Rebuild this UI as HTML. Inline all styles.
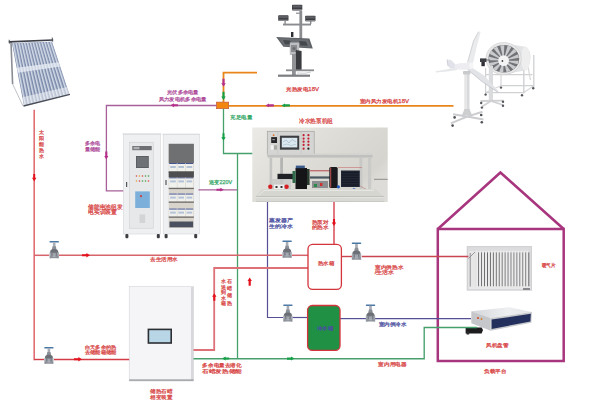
<!DOCTYPE html>
<html><head><meta charset="utf-8"><title>diagram</title>
<style>
html,body{margin:0;padding:0;background:#fff;}
body{width:600px;height:419px;overflow:hidden;position:relative;font-family:"Liberation Sans",sans-serif;}
svg{position:absolute;left:0;top:0;display:block;}
text{font-family:"Liberation Sans",sans-serif;}
</style></head><body>
<svg width="600" height="419" viewBox="0 0 600 419">
<rect x="0" y="0" width="600" height="419" fill="#ffffff"/>
<line x1="11" y1="42" x2="12.6" y2="84" stroke="#8a8d94" stroke-width="1.6"/>
<line x1="12.6" y1="84" x2="23" y2="106" stroke="#b8bbc2" stroke-width="0.9"/>
<polygon points="12.0,43.2 52.0,41.8 69.4,94.4 24.0,106.0" fill="#7b8aa8"/>
<line x1="13.43" y1="43.15" x2="25.62" y2="105.59" stroke="#a9b5cc" stroke-width="2.1"/>
<line x1="13.13" y1="43.15" x2="25.32" y2="105.59" stroke="#e6ebf3" stroke-width="0.7"/>
<line x1="16.29" y1="43.05" x2="28.86" y2="104.76" stroke="#a9b5cc" stroke-width="2.1"/>
<line x1="15.99" y1="43.05" x2="28.56" y2="104.76" stroke="#e6ebf3" stroke-width="0.7"/>
<line x1="19.14" y1="42.95" x2="32.11" y2="103.93" stroke="#a9b5cc" stroke-width="2.1"/>
<line x1="18.84" y1="42.95" x2="31.81" y2="103.93" stroke="#e6ebf3" stroke-width="0.7"/>
<line x1="22.00" y1="42.85" x2="35.35" y2="103.10" stroke="#a9b5cc" stroke-width="2.1"/>
<line x1="21.70" y1="42.85" x2="35.05" y2="103.10" stroke="#e6ebf3" stroke-width="0.7"/>
<line x1="24.86" y1="42.75" x2="38.59" y2="102.27" stroke="#a9b5cc" stroke-width="2.1"/>
<line x1="24.56" y1="42.75" x2="38.29" y2="102.27" stroke="#e6ebf3" stroke-width="0.7"/>
<line x1="27.71" y1="42.65" x2="41.84" y2="101.44" stroke="#a9b5cc" stroke-width="2.1"/>
<line x1="27.41" y1="42.65" x2="41.54" y2="101.44" stroke="#e6ebf3" stroke-width="0.7"/>
<line x1="30.57" y1="42.55" x2="45.08" y2="100.61" stroke="#a9b5cc" stroke-width="2.1"/>
<line x1="30.27" y1="42.55" x2="44.78" y2="100.61" stroke="#e6ebf3" stroke-width="0.7"/>
<line x1="33.43" y1="42.45" x2="48.32" y2="99.79" stroke="#a9b5cc" stroke-width="2.1"/>
<line x1="33.13" y1="42.45" x2="48.02" y2="99.79" stroke="#e6ebf3" stroke-width="0.7"/>
<line x1="36.29" y1="42.35" x2="51.56" y2="98.96" stroke="#a9b5cc" stroke-width="2.1"/>
<line x1="35.99" y1="42.35" x2="51.26" y2="98.96" stroke="#e6ebf3" stroke-width="0.7"/>
<line x1="39.14" y1="42.25" x2="54.81" y2="98.13" stroke="#a9b5cc" stroke-width="2.1"/>
<line x1="38.84" y1="42.25" x2="54.51" y2="98.13" stroke="#e6ebf3" stroke-width="0.7"/>
<line x1="42.00" y1="42.15" x2="58.05" y2="97.30" stroke="#a9b5cc" stroke-width="2.1"/>
<line x1="41.70" y1="42.15" x2="57.75" y2="97.30" stroke="#e6ebf3" stroke-width="0.7"/>
<line x1="44.86" y1="42.05" x2="61.29" y2="96.47" stroke="#a9b5cc" stroke-width="2.1"/>
<line x1="44.56" y1="42.05" x2="60.99" y2="96.47" stroke="#e6ebf3" stroke-width="0.7"/>
<line x1="47.71" y1="41.95" x2="64.54" y2="95.64" stroke="#a9b5cc" stroke-width="2.1"/>
<line x1="47.41" y1="41.95" x2="64.24" y2="95.64" stroke="#e6ebf3" stroke-width="0.7"/>
<line x1="50.57" y1="41.85" x2="67.78" y2="94.81" stroke="#a9b5cc" stroke-width="2.1"/>
<line x1="50.27" y1="41.85" x2="67.48" y2="94.81" stroke="#e6ebf3" stroke-width="0.7"/>
<polygon points="16.68,67.69 58.79,62.31 60.18,66.52 17.64,72.72" fill="#eef2f8" opacity="0.7"/>
<polygon points="22.32,97.21 66.96,87.04 69.40,94.40 24.00,106.00" fill="#f2f4f8" opacity="0.55"/>
<line x1="8.8" y1="41.8" x2="53.2" y2="40" stroke="#3c3f47" stroke-width="1.7"/>
<line x1="52.2" y1="37.6" x2="52.6" y2="41.6" stroke="#50525a" stroke-width="1"/>
<line x1="9.2" y1="39.8" x2="9.4" y2="43.6" stroke="#50525a" stroke-width="1"/>
<line x1="23.50" y1="106.00" x2="69.90" y2="94.40" stroke="#4a4e58" stroke-width="1.3"/>
<rect x="299.4" y="11" width="2.8" height="32" fill="#8a8c90"/>
<rect x="296" y="12.6" width="6" height="1.2" fill="#8a8c90"/>
<rect x="283" y="23.6" width="28" height="1.9" fill="#8a8c90"/>
<rect x="284.4" y="21" width="1.4" height="3" fill="#8a8c90"/><rect x="310" y="21" width="1.4" height="3" fill="#8a8c90"/>
<rect x="292" y="4.8" width="10.3" height="5.6" rx="0.8" fill="#3c3e43"/>
<rect x="292.6" y="5.3999999999999995" width="9.1" height="2.2" fill="#5c5e63"/>
<rect x="292.4" y="9.2" width="9.5" height="1.2" fill="#8e9094"/>
<rect x="278.2" y="15.3" width="10.3" height="5.6" rx="0.8" fill="#3c3e43"/>
<rect x="278.8" y="15.9" width="9.1" height="2.2" fill="#5c5e63"/>
<rect x="278.59999999999997" y="19.700000000000003" width="9.5" height="1.2" fill="#8e9094"/>
<rect x="305.2" y="15.7" width="10.3" height="5.6" rx="0.8" fill="#3c3e43"/>
<rect x="305.8" y="16.3" width="9.1" height="2.2" fill="#5c5e63"/>
<rect x="305.59999999999997" y="20.1" width="9.5" height="1.2" fill="#8e9094"/>
<polygon points="276.2,36.9 309.4,38.6 312.8,48.6 283.4,46.8" fill="#5e6166"/>
<polygon points="278.6,38 307.8,39.5 310.8,47.6 284.2,46" fill="#6a6d72"/>
<polygon points="283,40 290,40.4 291.5,44.5 285,44.2" fill="#45484d"/>
<polygon points="299,41 306,41.4 307.8,45.8 300.5,45.4" fill="#45484d"/>
<rect x="291" y="32" width="2.4" height="5" fill="#2c2e34"/>
<rect x="289.8" y="42.5" width="9.4" height="12.5" fill="#bcbec2"/>
<rect x="291" y="45" width="6" height="7" fill="#8a8c90"/>
<circle cx="294" cy="48.5" r="1.6" fill="#6a6c70"/>
<rect x="292" y="54" width="3.8" height="21" fill="#909296"/>
<polygon points="295.8,50 301.6,51 301.6,70.5 295.8,70.5" fill="#3a3c40"/>
<rect x="286" y="69.4" width="28" height="1.8" fill="#8a8c90"/>
<rect x="278" y="74.6" width="32" height="2.2" fill="#7c7e82"/>
<path d="M297,73 Q306,74 311,72" stroke="#9a9ca0" stroke-width="0.5" fill="none"/>
<line x1="523.8" y1="55" x2="523.8" y2="93.5" stroke="#cfd1d3" stroke-width="1.4"/>
<line x1="533.8" y1="55" x2="533.8" y2="87.5" stroke="#cfd1d3" stroke-width="1.3"/>
<line x1="501" y1="72" x2="501" y2="86.5" stroke="#cfd1d3" stroke-width="1.1"/>
<line x1="485.6" y1="68" x2="485.6" y2="94" stroke="#cfd1d3" stroke-width="1.2"/>
<line x1="485.6" y1="92.6" x2="523.8" y2="92.6" stroke="#cfd1d3" stroke-width="1.3"/>
<line x1="501" y1="85.6" x2="533.8" y2="85.6" stroke="#cfd1d3" stroke-width="1.2"/>
<line x1="523.8" y1="92.6" x2="533.8" y2="85.6" stroke="#cfd1d3" stroke-width="1.1"/>
<line x1="485.6" y1="92.6" x2="501" y2="85.6" stroke="#cfd1d3" stroke-width="1.0"/>
<line x1="486" y1="74.6" x2="532.5" y2="74.6" stroke="#cfd1d3" stroke-width="1.1"/>
<line x1="526" y1="55" x2="530.4" y2="80" stroke="#d8d9db" stroke-width="1.3"/>
<path d="M501.5,43 L525,46.8 Q531,50 530.5,58 Q530,67 525,70.4 L504.7,74.2 Z" fill="#e2e3e4"/>
<ellipse cx="525.5" cy="58.6" rx="4.5" ry="12" fill="#eeeeef"/>
<ellipse cx="503.6" cy="58.6" rx="17.7" ry="16.1" fill="#e8e8e9" stroke="#c4c5c7" stroke-width="0.5"/>
<ellipse cx="503.8" cy="58.8" rx="15.4" ry="13.8" fill="#707276"/>
<polygon points="503.6,60.6 518.85,60.69 517.73,64.22" fill="#c8cacc"/>
<polygon points="503.6,60.6 516.11,66.73 513.26,69.39" fill="#c8cacc"/>
<polygon points="503.6,60.6 510.50,70.96 506.58,72.14" fill="#c8cacc"/>
<polygon points="503.6,60.6 503.31,72.40 499.21,71.84" fill="#c8cacc"/>
<polygon points="503.6,60.6 496.19,70.72 492.86,68.54" fill="#c8cacc"/>
<polygon points="503.6,60.6 490.76,66.31 488.96,63.02" fill="#c8cacc"/>
<polygon points="503.6,60.6 488.28,60.19 488.42,56.53" fill="#c8cacc"/>
<polygon points="503.6,60.6 489.31,53.74 491.35,50.56" fill="#c8cacc"/>
<polygon points="503.6,60.6 493.61,48.45 497.09,46.47" fill="#c8cacc"/>
<polygon points="503.6,60.6 500.20,45.54 504.33,45.22" fill="#c8cacc"/>
<polygon points="503.6,60.6 507.57,45.66 511.39,47.07" fill="#c8cacc"/>
<polygon points="503.6,60.6 514.03,48.79 516.67,51.61" fill="#c8cacc"/>
<polygon points="503.6,60.6 518.10,54.22 518.96,57.80" fill="#c8cacc"/>
<circle cx="503.6" cy="60.6" r="5.4" fill="#f4f4f5"/>
<circle cx="502.4" cy="61" r="0.9" fill="#444"/>
<rect x="480" y="58.4" width="6.4" height="3.6" fill="#3e4046"/>
<rect x="481.4" y="62" width="3.4" height="4.2" fill="#2e3036"/>
<line x1="486" y1="60" x2="490" y2="60" stroke="#555" stroke-width="0.8"/>
<rect x="488.8" y="66" width="4.2" height="34.5" fill="#dadbdd"/>
<line x1="480.5" y1="101" x2="503.5" y2="100.6" stroke="#cfd0d2" stroke-width="1.8"/>
<line x1="491" y1="101" x2="481.8" y2="106.8" stroke="#cfd0d2" stroke-width="1.6"/>
<line x1="491" y1="101" x2="503" y2="105" stroke="#cfd0d2" stroke-width="1.6"/>
<circle cx="481.2" cy="103" r="1.2" fill="#55575b"/>
<circle cx="481.9" cy="107.6" r="1.2" fill="#55575b"/>
<circle cx="503" cy="101.8" r="1.2" fill="#55575b"/>
<circle cx="503" cy="105.8" r="1.2" fill="#55575b"/>
<circle cx="485.6" cy="94.6" r="1.2" fill="#55575b"/>
<circle cx="522" cy="95.2" r="1.2" fill="#55575b"/>
<circle cx="533.2" cy="88.2" r="1.2" fill="#55575b"/>
<circle cx="501" cy="87.6" r="1.2" fill="#55575b"/>
<rect x="464.5" y="72" width="5" height="41" fill="#d9dadc"/>
<rect x="465.3" y="72" width="1.5" height="41" fill="#ebebec"/>
<rect x="463" y="71" width="7.4" height="3.6" rx="1" fill="#c9cacc"/>
<polygon points="464.5,109 469.5,109 472,115 462,115" fill="#cdcecf"/>
<line x1="467" y1="116.6" x2="453" y2="114.2" stroke="#cbcccf" stroke-width="2"/>
<line x1="467" y1="116.6" x2="482.5" y2="111.8" stroke="#cbcccf" stroke-width="2"/>
<line x1="467" y1="116.6" x2="483.5" y2="119.5" stroke="#cbcccf" stroke-width="2"/>
<line x1="467" y1="116.6" x2="450.8" y2="123.4" stroke="#cbcccf" stroke-width="2"/>
<circle cx="454.6" cy="117.4" r="1.3" fill="#4e5054"/>
<circle cx="481.2" cy="115" r="1.3" fill="#4e5054"/>
<circle cx="481.8" cy="122.2" r="1.3" fill="#4e5054"/>
<circle cx="452.6" cy="125.6" r="1.3" fill="#4e5054"/>
<polygon points="467.5,62.5 473.5,41 478.6,31.6 480.6,32.2 477.2,45 473,63.5" fill="#eaebed"/>
<polyline points="467.5,62.5 473.5,41 478.6,31.6" fill="none" stroke="#b8babe" stroke-width="0.6"/>
<polygon points="457,67.6 446,69.4 435.4,71.2 436,72.4 447,71.4 457,70" fill="#e6e7e9"/>
<polygon points="469.5,66 484,75.5 498.9,91.4 497.6,92.2 482,81.5 467.5,69.5" fill="#e2e3e6"/>
<polyline points="467.5,69.5 482,81.5 497.6,92.2" fill="none" stroke="#b4b6ba" stroke-width="0.6"/>
<path d="M452.9,64.8 Q462,62.2 470,62.8 Q473.6,65.8 471.8,69 Q462,70.4 452.9,68.8 Z" fill="#ececf1"/>
<polygon points="447,59.6 451,60 455,64 454.7,68.4 450,68.6 448,66" fill="#e2e2ea"/>
<line x1="447" y1="59.6" x2="448" y2="66" stroke="#b8b8c4" stroke-width="0.6"/>
<ellipse cx="471.4" cy="65.8" rx="2" ry="3" fill="#f6f6f8"/>
<rect x="122.6" y="133.2" width="38.6" height="1.6" fill="#dfe1e3"/>
<rect x="123.4" y="134.4" width="37.2" height="99.6" fill="#eef0f1" stroke="#d4d6d8" stroke-width="0.6"/>
<rect x="129.6" y="142.2" width="23.6" height="86" fill="#e6e8e9" stroke="#c8cacc" stroke-width="0.5"/>
<rect x="132.3" y="146" width="19.4" height="4.2" fill="#6c6e72"/>
<rect x="133.5" y="146.8" width="6" height="2.5" fill="#aeb0b4"/>
<rect x="136" y="156" width="12.8" height="12" fill="#5c5e62"/>
<rect x="137" y="157" width="10.8" height="10" fill="#6e7276"/>
<circle cx="136.5" cy="176" r="0.8" fill="#e04848"/>
<circle cx="139.5" cy="176" r="0.8" fill="#e8a030"/>
<circle cx="142.5" cy="176" r="0.8" fill="#e04848"/>
<circle cx="145.5" cy="176" r="0.8" fill="#48a048"/>
<circle cx="148.5" cy="176" r="0.8" fill="#48a048"/>
<circle cx="136.5" cy="181" r="0.8" fill="#e8a030"/>
<circle cx="139.5" cy="181" r="0.8" fill="#e04848"/>
<circle cx="142.5" cy="181" r="0.8" fill="#48a048"/>
<circle cx="145.5" cy="181" r="0.8" fill="#48a048"/>
<circle cx="148.5" cy="181" r="0.8" fill="#e04848"/>
<rect x="135.2" y="191.4" width="14.6" height="16.6" fill="#7cb0da"/>
<circle cx="141" cy="196.2" r="1.1" fill="#d04040"/>
<rect x="139.5" y="214.4" width="5.7" height="8.6" fill="#d2d4d6"/>
<rect x="126" y="182" width="1.2" height="5" fill="#55575b"/>
<rect x="162.6" y="133.6" width="37.2" height="1.6" fill="#dfe1e3"/>
<rect x="163.2" y="134.6" width="36.2" height="99.4" fill="#eef0f1" stroke="#d4d6d8" stroke-width="0.6"/>
<rect x="168.7" y="143.8" width="25.2" height="84.2" fill="#d8d4cc"/>
<rect x="168.7" y="143.8" width="25.2" height="19.4" fill="#6e7072"/>
<rect x="169.2" y="163" width="7.6" height="8.5" fill="#f0f0ec"/>
<rect x="169.2" y="163" width="7.6" height="0.9" fill="#34458a"/>
<rect x="170.2" y="166" width="5.6" height="2" fill="#b4c2d8"/>
<rect x="177.4" y="163" width="7.6" height="8.5" fill="#f0f0ec"/>
<rect x="177.4" y="163" width="7.6" height="0.9" fill="#34458a"/>
<rect x="178.4" y="166" width="5.6" height="2" fill="#b4c2d8"/>
<rect x="185.6" y="163" width="7.6" height="8.5" fill="#f0f0ec"/>
<rect x="185.6" y="163" width="7.6" height="0.9" fill="#34458a"/>
<rect x="186.6" y="166" width="5.6" height="2" fill="#b4c2d8"/>
<rect x="168.7" y="171.5" width="25.2" height="1.3" fill="#6e6c6a"/>
<rect x="169.2" y="177.4" width="7.6" height="10.4" fill="#f0f0ec"/>
<rect x="169.2" y="177.4" width="7.6" height="0.9" fill="#34458a"/>
<rect x="170.2" y="180.4" width="5.6" height="2" fill="#b4c2d8"/>
<rect x="177.4" y="177.4" width="7.6" height="10.4" fill="#f0f0ec"/>
<rect x="177.4" y="177.4" width="7.6" height="0.9" fill="#34458a"/>
<rect x="178.4" y="180.4" width="5.6" height="2" fill="#b4c2d8"/>
<rect x="185.6" y="177.4" width="7.6" height="10.4" fill="#f0f0ec"/>
<rect x="185.6" y="177.4" width="7.6" height="0.9" fill="#34458a"/>
<rect x="186.6" y="180.4" width="5.6" height="2" fill="#b4c2d8"/>
<rect x="168.7" y="187.8" width="25.2" height="1.3" fill="#6e6c6a"/>
<rect x="169.2" y="193.6" width="7.6" height="7.9" fill="#f0f0ec"/>
<rect x="169.2" y="193.6" width="7.6" height="0.9" fill="#34458a"/>
<rect x="170.2" y="196.6" width="5.6" height="2" fill="#b4c2d8"/>
<rect x="177.4" y="193.6" width="7.6" height="7.9" fill="#f0f0ec"/>
<rect x="177.4" y="193.6" width="7.6" height="0.9" fill="#34458a"/>
<rect x="178.4" y="196.6" width="5.6" height="2" fill="#b4c2d8"/>
<rect x="185.6" y="193.6" width="7.6" height="7.9" fill="#f0f0ec"/>
<rect x="185.6" y="193.6" width="7.6" height="0.9" fill="#34458a"/>
<rect x="186.6" y="196.6" width="5.6" height="2" fill="#b4c2d8"/>
<rect x="168.7" y="201.5" width="25.2" height="1.3" fill="#6e6c6a"/>
<rect x="169.2" y="208.6" width="7.6" height="7.9" fill="#f0f0ec"/>
<rect x="169.2" y="208.6" width="7.6" height="0.9" fill="#34458a"/>
<rect x="170.2" y="211.6" width="5.6" height="2" fill="#b4c2d8"/>
<rect x="177.4" y="208.6" width="7.6" height="7.9" fill="#f0f0ec"/>
<rect x="177.4" y="208.6" width="7.6" height="0.9" fill="#34458a"/>
<rect x="178.4" y="211.6" width="5.6" height="2" fill="#b4c2d8"/>
<rect x="185.6" y="208.6" width="7.6" height="7.9" fill="#f0f0ec"/>
<rect x="185.6" y="208.6" width="7.6" height="0.9" fill="#34458a"/>
<rect x="186.6" y="211.6" width="5.6" height="2" fill="#b4c2d8"/>
<rect x="168.7" y="216.5" width="25.2" height="1.3" fill="#6e6c6a"/>
<rect x="168.7" y="171.5" width="25.2" height="5.9" fill="#4e4e50"/>
<rect x="169.5" y="221.5" width="23.6" height="5.8" fill="#4a5060"/>
<rect x="165.4" y="180" width="1.2" height="5" fill="#55575b"/>
<rect x="125.4" y="234" width="3" height="4.2" rx="1" fill="#3c3e42"/>
<rect x="156.8" y="234" width="3" height="4.2" rx="1" fill="#3c3e42"/>
<rect x="164.6" y="234" width="3" height="4.2" rx="1" fill="#3c3e42"/>
<rect x="194.2" y="234" width="3" height="4.2" rx="1" fill="#3c3e42"/>
<defs><linearGradient id="hpbg" x1="0" y1="0" x2="1" y2="0.6"><stop offset="0" stop-color="#eceae6"/><stop offset="0.55" stop-color="#dddbd5"/><stop offset="0.9" stop-color="#d6d4ce"/><stop offset="1" stop-color="#dedcd8"/></linearGradient></defs>
<rect x="252.3" y="127.5" width="135.4" height="74.5" fill="url(#hpbg)"/>
<rect x="267.3" y="131.3" width="46.9" height="23.7" fill="#d5d5d3" stroke="#a4a4a2" stroke-width="0.7"/>
<line x1="277.8" y1="132" x2="277.8" y2="154" stroke="#c0c0be" stroke-width="0.5"/>
<line x1="301.2" y1="132" x2="301.2" y2="154" stroke="#c0c0be" stroke-width="0.5"/>
<rect x="271.2" y="137.1" width="5.8" height="5.9" fill="#26262a"/>
<rect x="272.4" y="139" width="2.4" height="1.2" fill="#9a9aa0"/>
<circle cx="273.6" cy="135.2" r="0.9" fill="#e07030"/>
<rect x="270.7" y="145.3" width="3.2" height="4.4" fill="#f2f2f2"/>
<rect x="273.9" y="145.3" width="3.1" height="4.4" fill="#a8a8a4"/>
<rect x="279.9" y="135.7" width="19.3" height="14" fill="#3c3e42"/>
<rect x="281.8" y="137.8" width="15.5" height="9.6" fill="#dce8ef"/>
<path d="M283,142 L286,140 L289,143 L292,139.5 L296,142" stroke="#8aa0b4" stroke-width="0.5" fill="none"/>
<path d="M283,145 L287,144 L291,145.5 L296,144.2" stroke="#9ab0c0" stroke-width="0.5" fill="none"/>
<circle cx="303.6" cy="135.2" r="1.1" fill="#c41e32"/>
<circle cx="308.4" cy="135.2" r="1.1" fill="#c41e32"/>
<circle cx="303.6" cy="138.6" r="1.1" fill="#c41e32"/>
<circle cx="308.4" cy="138.6" r="1.1" fill="#c41e32"/>
<circle cx="303.6" cy="141.7" r="1.1" fill="#c41e32"/>
<circle cx="308.4" cy="141.7" r="1.1" fill="#c41e32"/>
<circle cx="303.6" cy="144.9" r="1.1" fill="#c41e32"/>
<circle cx="308.4" cy="144.9" r="1.1" fill="#c41e32"/>
<circle cx="303.6" cy="148.7" r="1.1" fill="#c41e32"/>
<circle cx="308.4" cy="148.7" r="1.1" fill="#222"/>
<rect x="267.5" y="153.8" width="105" height="3.8" fill="#c0c0be"/>
<rect x="267.5" y="153.8" width="105" height="0.9" fill="#dcdcda"/>
<rect x="269.6" y="157.6" width="2.6" height="32" fill="#c4c4c2"/>
<rect x="280.2" y="157.6" width="2.8" height="32" fill="#b4b4b2"/>
<rect x="359.4" y="157.6" width="3.0" height="32" fill="#c8c8c6"/>
<rect x="368" y="157.6" width="3.2" height="32" fill="#cacac8"/>
<rect x="277.5" y="173.8" width="17.5" height="5.4" fill="#1e2024"/>
<rect x="295.5" y="168" width="11.5" height="26.5" fill="#151517"/>
<rect x="295.8" y="165.6" width="9" height="2.6" fill="#3a5a8a"/>
<rect x="307" y="169" width="2.6" height="16" fill="#2a3a2e"/>
<rect x="292.5" y="171" width="3" height="12" fill="#2f6a4a"/>
<rect x="309.6" y="170" width="20" height="1.4" fill="#c07070"/>
<rect x="310" y="176.4" width="20" height="2.2" fill="#4a5660"/>
<rect x="312" y="181" width="16" height="7" fill="#6a6e72" opacity="0.7"/>
<rect x="314" y="184" width="3" height="3" fill="#2a8a4a"/><rect x="320" y="183" width="2.4" height="3" fill="#d03030"/>
<rect x="329.3" y="167" width="8.4" height="21" rx="1.5" fill="#1a1a1e"/>
<rect x="330.2" y="167.5" width="1" height="20" fill="#c05050"/>
<rect x="341" y="170.5" width="18.8" height="16.5" fill="#202634"/>
<line x1="342" y1="172.5" x2="358.8" y2="172.5" stroke="#0e121a" stroke-width="0.6"/>
<line x1="342" y1="175.0" x2="358.8" y2="175.0" stroke="#0e121a" stroke-width="0.6"/>
<line x1="342" y1="177.5" x2="358.8" y2="177.5" stroke="#0e121a" stroke-width="0.6"/>
<line x1="342" y1="180.0" x2="358.8" y2="180.0" stroke="#0e121a" stroke-width="0.6"/>
<line x1="342" y1="182.5" x2="358.8" y2="182.5" stroke="#0e121a" stroke-width="0.6"/>
<line x1="342" y1="185.0" x2="358.8" y2="185.0" stroke="#0e121a" stroke-width="0.6"/>
<rect x="271" y="179" width="20" height="16" fill="#c8c8c8" opacity="0.8"/>
<rect x="274" y="184.6" width="10" height="5" fill="#eeeeee"/>
<rect x="275.5" y="186" width="2" height="2" fill="#333"/><rect x="280.5" y="186" width="2" height="2" fill="#333"/>
<circle cx="270.3" cy="186.8" r="2.2" fill="#d81e22"/><circle cx="286.6" cy="186.8" r="2.2" fill="#d81e22"/>
<circle cx="304" cy="191" r="1.5" fill="#d82020"/>
<circle cx="338.4" cy="186.8" r="1.6" fill="#2058c0"/><circle cx="354" cy="190" r="1.8" fill="#2058c0"/>
<line x1="336" y1="190.5" x2="375" y2="190.5" stroke="#c87070" stroke-width="0.6"/>
<line x1="360" y1="186" x2="375" y2="194" stroke="#b08070" stroke-width="0.6"/>
<line x1="338" y1="167.5" x2="362" y2="167.5" stroke="#c87070" stroke-width="0.6"/>
<polygon points="262,189 375,189 383.6,196.6 256,196.6" fill="#d6d6d1"/>
<polyline points="258.5,195.6 264,190.4 374,190.4" fill="none" stroke="#eeeeec" stroke-width="0.7"/>
<line x1="256" y1="196.8" x2="384" y2="196.8" stroke="#a8a8a4" stroke-width="0.7"/>
<line x1="256" y1="197.5" x2="384" y2="197.5" stroke="#f0f0ee" stroke-width="0.7"/>
<rect x="256" y="197.8" width="128.2" height="3.9" fill="#d8d8d4"/>
<rect x="256" y="201.3" width="128.2" height="0.5" fill="#b8b8b4"/>
<line x1="374" y1="179.3" x2="387.7" y2="179.3" stroke="#6e6a66" stroke-width="0.7"/>
<rect x="129.2" y="286.6" width="64.3" height="94.4" fill="#f5f5f8" stroke="#d2d3d7" stroke-width="0.6"/>
<rect x="191" y="287" width="2.5" height="94" fill="#d8d8dc"/>
<rect x="129.2" y="379.4" width="64.3" height="1.4" fill="#9a9ca0"/>
<rect x="147.6" y="328.6" width="24.4" height="15.2" fill="#2c2e32"/>
<rect x="149.2" y="330.2" width="21.2" height="12" fill="#b8d6e6"/>
<rect x="466.7" y="246" width="65.3" height="44.7" fill="#d2d2d4"/>
<rect x="468" y="247.2" width="62.8" height="42.4" fill="#dcdcde"/>
<rect x="476.20" y="250.4" width="1.95" height="38" rx="0.8" fill="#ececec"/>
<rect x="478.15" y="252.4" width="1.0" height="34" fill="#6a6a6e"/>
<rect x="479.15" y="250.4" width="1.95" height="38" rx="0.8" fill="#ececec"/>
<rect x="481.10" y="252.4" width="1.0" height="34" fill="#6a6a6e"/>
<rect x="482.10" y="250.4" width="1.95" height="38" rx="0.8" fill="#ececec"/>
<rect x="484.05" y="252.4" width="1.0" height="34" fill="#6a6a6e"/>
<rect x="485.05" y="250.4" width="1.95" height="38" rx="0.8" fill="#ececec"/>
<rect x="487.00" y="252.4" width="1.0" height="34" fill="#6a6a6e"/>
<rect x="488.00" y="250.4" width="1.95" height="38" rx="0.8" fill="#ececec"/>
<rect x="489.95" y="252.4" width="1.0" height="34" fill="#6a6a6e"/>
<rect x="490.95" y="250.4" width="1.95" height="38" rx="0.8" fill="#ececec"/>
<rect x="492.90" y="252.4" width="1.0" height="34" fill="#6a6a6e"/>
<rect x="493.90" y="250.4" width="1.95" height="38" rx="0.8" fill="#ececec"/>
<rect x="495.85" y="252.4" width="1.0" height="34" fill="#6a6a6e"/>
<rect x="496.85" y="250.4" width="1.95" height="38" rx="0.8" fill="#ececec"/>
<rect x="498.80" y="252.4" width="1.0" height="34" fill="#6a6a6e"/>
<rect x="499.80" y="250.4" width="1.95" height="38" rx="0.8" fill="#ececec"/>
<rect x="501.75" y="252.4" width="1.0" height="34" fill="#6a6a6e"/>
<rect x="502.75" y="250.4" width="1.95" height="38" rx="0.8" fill="#ececec"/>
<rect x="504.70" y="252.4" width="1.0" height="34" fill="#6a6a6e"/>
<rect x="505.70" y="250.4" width="1.95" height="38" rx="0.8" fill="#ececec"/>
<rect x="507.65" y="252.4" width="1.0" height="34" fill="#6a6a6e"/>
<rect x="508.65" y="250.4" width="1.95" height="38" rx="0.8" fill="#ececec"/>
<rect x="510.60" y="252.4" width="1.0" height="34" fill="#6a6a6e"/>
<rect x="511.60" y="250.4" width="1.95" height="38" rx="0.8" fill="#ececec"/>
<rect x="513.55" y="252.4" width="1.0" height="34" fill="#6a6a6e"/>
<rect x="514.55" y="250.4" width="1.95" height="38" rx="0.8" fill="#ececec"/>
<rect x="516.50" y="252.4" width="1.0" height="34" fill="#6a6a6e"/>
<rect x="517.50" y="250.4" width="1.95" height="38" rx="0.8" fill="#ececec"/>
<rect x="519.45" y="252.4" width="1.0" height="34" fill="#6a6a6e"/>
<rect x="520.45" y="250.4" width="1.95" height="38" rx="0.8" fill="#ececec"/>
<rect x="522.40" y="252.4" width="1.0" height="34" fill="#6a6a6e"/>
<rect x="523.40" y="250.4" width="1.95" height="38" rx="0.8" fill="#ececec"/>
<rect x="525.35" y="252.4" width="1.0" height="34" fill="#6a6a6e"/>
<rect x="526.35" y="250.4" width="1.95" height="38" rx="0.8" fill="#ececec"/>
<rect x="528.30" y="252.4" width="1.0" height="34" fill="#6a6a6e"/>
<rect x="468.4" y="251" width="7.2" height="37" fill="#e6e6e6"/>
<rect x="469.6" y="253" width="1.4" height="34" fill="#a8a8ac"/>
<line x1="468.5" y1="258.5" x2="475" y2="252" stroke="#909094" stroke-width="0.9"/>
<rect x="469" y="286.6" width="61.5" height="2.4" fill="#e8e8e8"/>
<rect x="523" y="288" width="7" height="2" fill="#8a8a8e"/>
<defs><linearGradient id="fct" x1="0" y1="0" x2="1" y2="0"><stop offset="0" stop-color="#d4d5d9"/><stop offset="0.6" stop-color="#eeeff1"/><stop offset="1" stop-color="#e2e3e6"/></linearGradient></defs>
<polygon points="471.3,311.3 509.3,307.3 532,312 490.7,318" fill="url(#fct)"/>
<polygon points="490.7,318 532,312 531.3,322.7 490.7,330.7" fill="#c8c9cd"/>
<polygon points="491.6,319.6 530.8,313.8 530.4,321.6 491.6,329" fill="#23305e"/>
<polygon points="471.3,311.3 490.7,318 490.7,330.7 471.3,323.3" fill="#c6c7cb"/>
<circle cx="478" cy="318" r="1.1" fill="#d05030"/><circle cx="481.5" cy="319" r="1" fill="#d08030"/>
<polygon points="465.6,327.5 481.6,327.5 483,330 481.6,333.6 465.6,333.6" fill="#1c1c1e"/>
<rect x="466.6" y="331.5" width="2.6" height="3" fill="#2a2a2c"/>
<polyline points="437.8,229 500.4,172.5 563.7,229" fill="none" stroke="#a8367e" stroke-width="2.6" stroke-linejoin="miter"/>
<rect x="437.8" y="229" width="125.9" height="132" fill="none" stroke="#a8367e" stroke-width="2.5"/>
<polyline points="257,72.6 223.5,72.6 223.5,102" fill="none" stroke="#e8861c" stroke-width="1.8" stroke-linejoin="miter"/>
<line x1="228.7" y1="105.8" x2="453.5" y2="105.8" stroke="#e8861c" stroke-width="1.8"/>
<rect x="216.4" y="102.1" width="12.3" height="6.6" fill="#f2860e" stroke="#b8503c" stroke-width="0.6"/>
<polyline points="216.4,105.5 106.4,105.5 106.4,190.9 123.2,190.9" fill="none" stroke="#a8609a" stroke-width="1.3" stroke-linejoin="miter"/>
<line x1="198.5" y1="189.8" x2="237.5" y2="189.8" stroke="#a8609a" stroke-width="1.3"/>
<polyline points="223.5,108.9 223.5,153.5 252.3,153.5" fill="none" stroke="#46a06c" stroke-width="1.3" stroke-linejoin="miter"/>
<line x1="237.5" y1="153.5" x2="237.5" y2="358.7" stroke="#46a06c" stroke-width="1.3"/>
<polyline points="193.5,358.7 424.2,358.7 424.2,327.5 477,327.5" fill="none" stroke="#46a06c" stroke-width="1.35" stroke-linejoin="miter"/>
<polyline points="267.5,202 267.5,317.5 283.3,317.5" fill="none" stroke="#555096" stroke-width="1.2" stroke-linejoin="miter"/>
<line x1="292.5" y1="317.5" x2="307.6" y2="317.5" stroke="#555096" stroke-width="1.2"/>
<line x1="340" y1="318.6" x2="366" y2="318.6" stroke="#555096" stroke-width="1.2"/>
<line x1="375" y1="318.6" x2="471" y2="318.6" stroke="#555096" stroke-width="1.2"/>
<line x1="34.2" y1="109.7" x2="34.2" y2="360.2" stroke="#e16e73" stroke-width="1.6"/>
<line x1="34.2" y1="255.3" x2="49.2" y2="255.3" stroke="#d7646a" stroke-width="1.5"/>
<line x1="59" y1="255.3" x2="282.4" y2="255.3" stroke="#d7646a" stroke-width="1.5"/>
<line x1="292" y1="255.3" x2="308" y2="255.3" stroke="#d7646a" stroke-width="1.5"/>
<line x1="34.2" y1="359.5" x2="44" y2="359.5" stroke="#d23c46" stroke-width="1.4"/>
<line x1="54" y1="359.5" x2="129.2" y2="359.5" stroke="#d23c46" stroke-width="1.4"/>
<polyline points="193.5,350 214.2,350 214.2,268 308,268" fill="none" stroke="#de7078" stroke-width="1.8" stroke-linejoin="miter"/>
<line x1="334" y1="202" x2="334" y2="244.3" stroke="#e17882" stroke-width="2.0"/>
<line x1="341.5" y1="256.5" x2="352.2" y2="256.5" stroke="#c84650" stroke-width="1.4"/>
<line x1="361.8" y1="256.5" x2="468.4" y2="256.5" stroke="#c84650" stroke-width="1.4"/>
<rect x="308" y="244.3" width="33.4" height="45" rx="4.6" fill="#fff" stroke="#d4343c" stroke-width="1.3"/>
<rect x="307.6" y="305.5" width="32.4" height="44.8" rx="4.6" fill="#1f9044" stroke="#d4343c" stroke-width="1.3"/>
<g transform="translate(49.5,241.1) scale(1.0)"><rect x="0" y="0" width="9.4" height="1.5" rx="0.6" fill="#4a78a4"/><rect x="3.4" y="1.4" width="2.6" height="4.4" fill="#a8acb4"/><path d="M2.3,8.8 L3.1,5.2 L6.3,5.2 L7.1,8.8 Z" fill="#8a8e96"/><ellipse cx="4.7" cy="11.2" rx="4.1" ry="3.2" fill="#6c7076"/><rect x="0.9" y="11.2" width="7.6" height="4" fill="#7a7e86"/><rect x="0" y="11.4" width="1.7" height="5.8" fill="#a2a6ae"/><rect x="7.7" y="11.4" width="1.7" height="5.8" fill="#a2a6ae"/><rect x="0.6" y="14.8" width="8.2" height="2.3" fill="#8c9098"/><rect x="3.2" y="12" width="3" height="4" fill="#b4b8c0" opacity="0.7"/></g>
<g transform="translate(44.3,347) scale(0.98)"><rect x="0" y="0" width="9.4" height="1.5" rx="0.6" fill="#4a78a4"/><rect x="3.4" y="1.4" width="2.6" height="4.4" fill="#a8acb4"/><path d="M2.3,8.8 L3.1,5.2 L6.3,5.2 L7.1,8.8 Z" fill="#8a8e96"/><ellipse cx="4.7" cy="11.2" rx="4.1" ry="3.2" fill="#6c7076"/><rect x="0.9" y="11.2" width="7.6" height="4" fill="#7a7e86"/><rect x="0" y="11.4" width="1.7" height="5.8" fill="#a2a6ae"/><rect x="7.7" y="11.4" width="1.7" height="5.8" fill="#a2a6ae"/><rect x="0.6" y="14.8" width="8.2" height="2.3" fill="#8c9098"/><rect x="3.2" y="12" width="3" height="4" fill="#b4b8c0" opacity="0.7"/></g>
<g transform="translate(282.4,240.6) scale(1.0)"><rect x="0" y="0" width="9.4" height="1.5" rx="0.6" fill="#4a78a4"/><rect x="3.4" y="1.4" width="2.6" height="4.4" fill="#a8acb4"/><path d="M2.3,8.8 L3.1,5.2 L6.3,5.2 L7.1,8.8 Z" fill="#8a8e96"/><ellipse cx="4.7" cy="11.2" rx="4.1" ry="3.2" fill="#6c7076"/><rect x="0.9" y="11.2" width="7.6" height="4" fill="#7a7e86"/><rect x="0" y="11.4" width="1.7" height="5.8" fill="#a2a6ae"/><rect x="7.7" y="11.4" width="1.7" height="5.8" fill="#a2a6ae"/><rect x="0.6" y="14.8" width="8.2" height="2.3" fill="#8c9098"/><rect x="3.2" y="12" width="3" height="4" fill="#b4b8c0" opacity="0.7"/></g>
<g transform="translate(351.8,242.6) scale(1.0)"><rect x="0" y="0" width="9.4" height="1.5" rx="0.6" fill="#4a78a4"/><rect x="3.4" y="1.4" width="2.6" height="4.4" fill="#a8acb4"/><path d="M2.3,8.8 L3.1,5.2 L6.3,5.2 L7.1,8.8 Z" fill="#8a8e96"/><ellipse cx="4.7" cy="11.2" rx="4.1" ry="3.2" fill="#6c7076"/><rect x="0.9" y="11.2" width="7.6" height="4" fill="#7a7e86"/><rect x="0" y="11.4" width="1.7" height="5.8" fill="#a2a6ae"/><rect x="7.7" y="11.4" width="1.7" height="5.8" fill="#a2a6ae"/><rect x="0.6" y="14.8" width="8.2" height="2.3" fill="#8c9098"/><rect x="3.2" y="12" width="3" height="4" fill="#b4b8c0" opacity="0.7"/></g>
<g transform="translate(283.2,304.4) scale(1.0)"><rect x="0" y="0" width="9.4" height="1.5" rx="0.6" fill="#4a78a4"/><rect x="3.4" y="1.4" width="2.6" height="4.4" fill="#a8acb4"/><path d="M2.3,8.8 L3.1,5.2 L6.3,5.2 L7.1,8.8 Z" fill="#8a8e96"/><ellipse cx="4.7" cy="11.2" rx="4.1" ry="3.2" fill="#6c7076"/><rect x="0.9" y="11.2" width="7.6" height="4" fill="#7a7e86"/><rect x="0" y="11.4" width="1.7" height="5.8" fill="#a2a6ae"/><rect x="7.7" y="11.4" width="1.7" height="5.8" fill="#a2a6ae"/><rect x="0.6" y="14.8" width="8.2" height="2.3" fill="#8c9098"/><rect x="3.2" y="12" width="3" height="4" fill="#b4b8c0" opacity="0.7"/></g>
<g transform="translate(365.8,304.4) scale(1.0)"><rect x="0" y="0" width="9.4" height="1.5" rx="0.6" fill="#4a78a4"/><rect x="3.4" y="1.4" width="2.6" height="4.4" fill="#a8acb4"/><path d="M2.3,8.8 L3.1,5.2 L6.3,5.2 L7.1,8.8 Z" fill="#8a8e96"/><ellipse cx="4.7" cy="11.2" rx="4.1" ry="3.2" fill="#6c7076"/><rect x="0.9" y="11.2" width="7.6" height="4" fill="#7a7e86"/><rect x="0" y="11.4" width="1.7" height="5.8" fill="#a2a6ae"/><rect x="7.7" y="11.4" width="1.7" height="5.8" fill="#a2a6ae"/><rect x="0.6" y="14.8" width="8.2" height="2.3" fill="#8c9098"/><rect x="3.2" y="12" width="3" height="4" fill="#b4b8c0" opacity="0.7"/></g>
<polygon points="33.20,174.00 33.20,177.80 32.02,177.80 34.20,181.40 36.39,177.80 35.20,177.80 35.20,174.00" fill="#e3121c"/>
<polygon points="82.00,254.15 86.40,254.15 86.40,252.96 90.00,255.20 86.40,257.44 86.40,256.25 82.00,256.25" fill="#e3121c"/>
<polygon points="74.00,358.25 78.40,358.25 78.40,357.06 82.00,359.30 78.40,361.54 78.40,360.35 74.00,360.35" fill="#e3121c"/>
<polygon points="213.25,300.80 213.25,296.80 212.12,296.80 214.30,293.20 216.49,296.80 215.35,296.80 215.35,300.80" fill="#e3121c"/>
<polygon points="248.60,285.80 248.60,281.00 247.51,281.00 249.70,277.40 251.88,281.00 250.80,281.00 250.80,285.80" fill="#e3121c"/>
<polygon points="332.95,219.00 332.95,222.40 331.81,222.40 334.00,226.00 336.19,222.40 335.05,222.40 335.05,219.00" fill="#e3121c"/>
<polygon points="105.25,151.50 105.25,155.90 104.23,155.90 106.30,159.50 108.37,155.90 107.35,155.90 107.35,151.50" fill="#b4308a"/>
<polygon points="177.95,104.20 174.05,104.20 174.05,103.25 170.45,105.20 174.05,107.16 174.05,106.20 177.95,106.20" fill="#b4308a"/>
<polygon points="216.45,188.75 220.35,188.75 220.35,187.86 223.95,189.70 220.35,191.54 220.35,190.64 216.45,190.64" fill="#b4308a"/>
<polygon points="222.45,78.80 222.45,83.20 221.31,83.20 223.50,86.80 225.69,83.20 224.55,83.20 224.55,78.80" fill="#b4308a"/>
<polygon points="222.45,91.80 222.45,96.60 221.31,96.60 223.50,100.20 225.69,96.60 224.55,96.60 224.55,91.80" fill="#14a046"/>
<polygon points="273.85,104.35 268.95,104.35 268.95,103.56 265.35,105.40 268.95,107.24 268.95,106.45 273.85,106.45" fill="#b4308a"/>
<polygon points="289.85,104.35 284.95,104.35 284.95,103.56 281.35,105.40 284.95,107.24 284.95,106.45 289.85,106.45" fill="#14a046"/>
<polygon points="222.50,133.15 222.50,137.25 221.31,137.25 223.50,140.85 225.69,137.25 224.50,137.25 224.50,133.15" fill="#14a046"/>
<polygon points="229.20,357.50 225.60,357.50 225.60,356.49 222.00,358.50 225.60,360.51 225.60,359.50 229.20,359.50" fill="#14a046"/>
<polygon points="287.00,357.55 291.00,357.55 291.00,356.59 294.60,358.60 291.00,360.61 291.00,359.65 287.00,359.65" fill="#14a046"/>
<text x="39.1" y="134.40" fill="#d84848" stroke="#d84848" stroke-width="0.25" font-size="5.0">太</text>
<text x="39.1" y="140.40" fill="#d84848" stroke="#d84848" stroke-width="0.25" font-size="5.0">阳</text>
<text x="39.1" y="146.40" fill="#d84848" stroke="#d84848" stroke-width="0.25" font-size="5.0">能</text>
<text x="39.1" y="152.40" fill="#d84848" stroke="#d84848" stroke-width="0.25" font-size="5.0">热</text>
<text x="39.1" y="158.40" fill="#d84848" stroke="#d84848" stroke-width="0.25" font-size="5.0">水</text>
<text x="167" y="93.6" fill="#b0509c" stroke="#b0509c" stroke-width="0.25" font-size="5.3" text-anchor="start" textLength="31.5" lengthAdjust="spacingAndGlyphs">光伏多余电量</text>
<text x="158.8" y="100.6" fill="#b0509c" stroke="#b0509c" stroke-width="0.25" font-size="5.3" text-anchor="start" textLength="48" lengthAdjust="spacingAndGlyphs">风力发电机多余电量</text>
<text x="85.2" y="145.3" fill="#b0509c" stroke="#b0509c" stroke-width="0.25" font-size="5.0" text-anchor="start" textLength="15.3" lengthAdjust="spacingAndGlyphs">多余电</text>
<text x="85.2" y="150.5" fill="#b0509c" stroke="#b0509c" stroke-width="0.25" font-size="5.0" text-anchor="start" textLength="15.3" lengthAdjust="spacingAndGlyphs">量储能</text>
<text x="88" y="208.5" fill="#d84848" stroke="#d84848" stroke-width="0.25" font-size="5.6" text-anchor="start" textLength="34.5" lengthAdjust="spacingAndGlyphs">储能电池组发</text>
<text x="88" y="214" fill="#d84848" stroke="#d84848" stroke-width="0.25" font-size="5.6" text-anchor="start" textLength="29" lengthAdjust="spacingAndGlyphs">电实训装置</text>
<text x="230" y="118.6" fill="#38a868" stroke="#38a868" stroke-width="0.25" font-size="5.4" text-anchor="start" textLength="22" lengthAdjust="spacingAndGlyphs">充足电量</text>
<text x="299" y="123" fill="#d84848" stroke="#d84848" stroke-width="0.25" font-size="5.6" text-anchor="start" textLength="34" lengthAdjust="spacingAndGlyphs">冷水热泵机组</text>
<text x="286" y="91.4" fill="#d84848" stroke="#d84848" stroke-width="0.25" font-size="5.4" text-anchor="start" textLength="33" lengthAdjust="spacingAndGlyphs">光热发电18V</text>
<text x="359.5" y="103.4" fill="#d84848" stroke="#d84848" stroke-width="0.25" font-size="5.4" text-anchor="start" textLength="49.5" lengthAdjust="spacingAndGlyphs">室内风力发电机18V</text>
<text x="209" y="183.5" fill="#38a868" stroke="#38a868" stroke-width="0.25" font-size="5.2" text-anchor="start" textLength="23" lengthAdjust="spacingAndGlyphs">送变220V</text>
<text x="269" y="222" fill="#4a4ea0" stroke="#4a4ea0" stroke-width="0.25" font-size="5.4" text-anchor="start" textLength="24" lengthAdjust="spacingAndGlyphs">蒸发器产</text>
<text x="269" y="228" fill="#4a4ea0" stroke="#4a4ea0" stroke-width="0.25" font-size="5.4" text-anchor="start" textLength="24" lengthAdjust="spacingAndGlyphs">生的冷水</text>
<text x="311.8" y="223.6" fill="#d84848" stroke="#d84848" stroke-width="0.25" font-size="5.4" text-anchor="start" textLength="17.0" lengthAdjust="spacingAndGlyphs">热泵对</text>
<text x="311.8" y="229.3" fill="#d84848" stroke="#d84848" stroke-width="0.25" font-size="5.4" text-anchor="start" textLength="17.0" lengthAdjust="spacingAndGlyphs">的热水</text>
<text x="317.5" y="265" fill="#d84848" stroke="#d84848" stroke-width="0.25" font-size="5.0" text-anchor="start" textLength="16.5" lengthAdjust="spacingAndGlyphs">热水箱</text>
<text x="316.7" y="330" fill="#4a4ea0" stroke="#4a4ea0" stroke-width="0.25" font-size="5.0" text-anchor="start" textLength="16.7" lengthAdjust="spacingAndGlyphs">冷水箱</text>
<text x="375" y="269" fill="#d84848" stroke="#d84848" stroke-width="0.25" font-size="5.4" text-anchor="start" textLength="28.4" lengthAdjust="spacingAndGlyphs">室内供热水</text>
<text x="374.8" y="274.4" fill="#d84848" stroke="#d84848" stroke-width="0.25" font-size="5.0" text-anchor="start" textLength="19.6" lengthAdjust="spacingAndGlyphs">/生活水</text>
<text x="378.6" y="326.3" fill="#4a4ea0" stroke="#4a4ea0" stroke-width="0.25" font-size="5.4" text-anchor="start" textLength="28" lengthAdjust="spacingAndGlyphs">室内供冷水</text>
<text x="378.3" y="365.5" fill="#d84848" stroke="#d84848" stroke-width="0.25" font-size="5.4" text-anchor="start" textLength="28.4" lengthAdjust="spacingAndGlyphs">室内用电器</text>
<text x="541.8" y="267" fill="#d84848" stroke="#d84848" stroke-width="0.25" font-size="5.0" text-anchor="start" textLength="13.6" lengthAdjust="spacingAndGlyphs">暖气片</text>
<text x="486" y="346.5" fill="#d84848" stroke="#d84848" stroke-width="0.25" font-size="5.0" text-anchor="start" textLength="22.5" lengthAdjust="spacingAndGlyphs">风机盘管</text>
<text x="484" y="372.8" fill="#d84848" stroke="#d84848" stroke-width="0.25" font-size="5.2" text-anchor="start" textLength="22.2" lengthAdjust="spacingAndGlyphs">负载平台</text>
<text x="150" y="261" fill="#d84848" stroke="#d84848" stroke-width="0.25" font-size="5.0" text-anchor="start" textLength="28" lengthAdjust="spacingAndGlyphs">去生活用水</text>
<text x="85" y="349.2" fill="#d84848" stroke="#d84848" stroke-width="0.25" font-size="4.6" text-anchor="start" textLength="31.3" lengthAdjust="spacingAndGlyphs">白天多余的热</text>
<text x="85" y="354" fill="#d84848" stroke="#d84848" stroke-width="0.25" font-size="4.6" text-anchor="start" textLength="31.3" lengthAdjust="spacingAndGlyphs">去储能箱储能</text>
<text x="202.4" y="367.3" fill="#d84848" stroke="#d84848" stroke-width="0.25" font-size="5.2" text-anchor="start" textLength="39.2" lengthAdjust="spacingAndGlyphs">多余电量去溶化</text>
<text x="202.4" y="373.3" fill="#d84848" stroke="#d84848" stroke-width="0.25" font-size="5.2" text-anchor="start" textLength="39.2" lengthAdjust="spacingAndGlyphs">石蜡发热储能</text>
<text x="150" y="392.6" fill="#d84848" stroke="#d84848" stroke-width="0.25" font-size="5.0" text-anchor="start" textLength="22.2" lengthAdjust="spacingAndGlyphs">储热石蜡</text>
<text x="150" y="398.8" fill="#d84848" stroke="#d84848" stroke-width="0.25" font-size="5.0" text-anchor="start" textLength="22.2" lengthAdjust="spacingAndGlyphs">相变装置</text>
<text x="221" y="283.00" fill="#d84848" stroke="#d84848" stroke-width="0.25" font-size="5.0">水</text>
<text x="221" y="288.60" fill="#d84848" stroke="#d84848" stroke-width="0.25" font-size="5.0">送</text>
<text x="221" y="294.20" fill="#d84848" stroke="#d84848" stroke-width="0.25" font-size="5.0">到</text>
<text x="221" y="299.80" fill="#d84848" stroke="#d84848" stroke-width="0.25" font-size="5.0">水</text>
<text x="221" y="305.40" fill="#d84848" stroke="#d84848" stroke-width="0.25" font-size="5.0">箱</text>
<text x="226.5" y="283.00" fill="#d84848" stroke="#d84848" stroke-width="0.25" font-size="5.0">石</text>
<text x="226.5" y="290.20" fill="#d84848" stroke="#d84848" stroke-width="0.25" font-size="5.0">蜡</text>
<text x="226.5" y="297.40" fill="#d84848" stroke="#d84848" stroke-width="0.25" font-size="5.0">储</text>
<text x="226.5" y="304.60" fill="#d84848" stroke="#d84848" stroke-width="0.25" font-size="5.0">热</text>
</svg>
</body></html>
